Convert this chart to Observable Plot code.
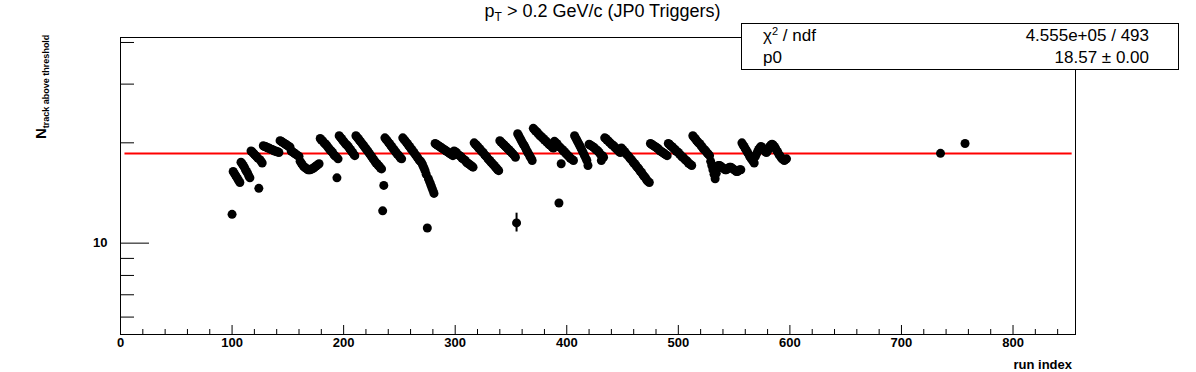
<!DOCTYPE html>
<html>
<head>
<meta charset="utf-8">
<script src="https://cdn.jsdelivr.net/npm/d3@7"></script>
<script src="https://cdn.jsdelivr.net/npm/@observablehq/plot@0.6"></script>
<style>
  body { margin: 0; background: #fff; }
  #wrap { position: relative; width: 1196px; height: 372px; overflow: hidden; font-family: "Liberation Sans", Arial, Helvetica, sans-serif; color: #000; }
  #chart { position: absolute; left: 0; top: 0; }
  .title { position: absolute; left: 0; width: 1205px; top: 1px; text-align: center; font-size: 18px; white-space: nowrap; }
  .title sub { font-size: 12px; vertical-align: -4px; }
  .stats { position: absolute; left: 741px; top: 23px; width: 436px; height: 45px; border: 1px solid #000; background: #fff; font-size: 17px; }
  .stats .row { position: absolute; left: 21px; right: 29px; height: 20px; line-height: 20px; }
  .stats .row .l { position: absolute; left: 0; }
  .stats .row .r { position: absolute; right: 0; }
  .stats sup { font-size: 11px; vertical-align: 6px; line-height: 0; }
  .ylab { position: absolute; left: 32px; top: 139px; transform-origin: 0 0; transform: rotate(-90deg); white-space: nowrap; font-weight: bold; line-height: 18px; }
  .ylab .n { font-size: 15px; }
  .ylab sub { font-size: 9px; vertical-align: -3px; }
  .xlab { position: absolute; right: 124px; top: 357px; font-size: 13px; font-weight: bold; }
</style>
</head>
<body>
<div id="wrap">
  <div id="chart"></div>
  <div class="title">p<sub>T</sub> &gt; 0.2 GeV/c (JP0 Triggers)</div>
  <div class="stats" id="stats"></div>
  <div class="ylab"><span class="n">N</span><sub>track above threshold</sub></div>
  <div class="xlab">run index</div>
</div>
<script>
// ---- data ----
const firstRun = 100;
// N_track above threshold for runs 100 .. 597 (one value per run index)
const nTrack = [
  12.2,
  16.4,16.2,16.0,15.8,15.6,15.4,15.2,
  17.5,17.3,17.1,16.9,16.6,16.4,16.2,15.9,15.7,
  18.9,18.8,18.6,18.5,18.3,18.2,18.0,14.6,17.8,17.6,17.4,
  19.6,19.5,19.5,19.4,19.3,19.3,19.2,19.1,19.1,19.0,18.9,18.9,18.8,18.8,18.7,
  20.3,20.2,20.1,20.0,19.9,19.8,19.7,19.6,19.5,19.4,
  18.9,18.8,18.7,18.6,18.5,18.4,18.3,18.2,
  17.6,17.4,17.2,17.0,16.9,16.8,16.7,16.6,16.6,16.6,16.7,16.7,16.8,16.9,17.0,17.1,17.2,17.3,
  20.6,20.4,20.3,20.1,19.9,19.8,19.6,19.4,19.2,19.0,18.9,18.7,18.5,18.3,18.2,15.7,17.9,
  21.0,20.8,20.6,20.4,20.2,20.0,19.8,19.7,19.5,19.3,19.1,18.9,18.7,18.5,18.3,
  21.0,20.8,20.6,20.4,20.2,20.0,19.8,19.6,19.4,19.2,19.0,18.8,18.6,18.4,18.2,18.0,17.8,17.6,17.4,17.3,17.1,17.0,16.8,16.7,
  12.5,14.9,
  20.7,20.5,20.3,20.1,19.9,19.7,19.5,19.3,19.1,18.9,18.7,18.5,18.4,18.2,18.0,17.9,
  20.7,20.5,20.3,20.1,19.9,19.7,19.5,19.3,19.1,18.9,18.7,18.5,18.3,18.1,17.9,17.7,17.6,17.4,17.1,16.8,16.5,
  16.1,11.1,15.6,15.3,15.0,14.7,14.4,14.1,
  19.9,19.8,19.7,19.6,19.5,19.4,19.3,19.2,19.1,19.0,18.9,18.8,18.7,18.6,18.5,18.4,18.3,
  18.9,18.8,18.7,18.5,18.4,18.3,18.2,18.0,17.9,17.8,17.7,17.5,17.4,17.3,17.2,17.1,17.0,16.9,
  20.0,19.8,19.7,19.5,19.3,19.2,19.0,18.8,18.7,18.5,18.3,18.2,18.0,17.8,17.7,17.5,17.4,17.2,17.1,16.9,16.8,16.6,16.5,
  20.3,20.1,20.0,19.8,19.7,19.5,19.4,19.2,19.1,18.9,18.8,18.6,18.5,18.3,18.1,
  11.5,
  21.3,21.0,20.7,20.4,20.1,19.8,19.6,19.3,19.0,18.7,18.5,18.2,18.0,17.7,
  22.1,21.9,21.7,21.6,21.4,21.2,21.0,20.9,20.7,20.6,20.4,20.3,20.1,20.0,19.8,19.7,19.6,19.4,19.3,
  20.2,20.0,19.9,19.7,13.2,19.4,17.3,19.1,18.9,18.8,18.6,18.5,18.3,18.2,18.0,17.9,17.8,17.7,
  21.0,20.7,20.4,20.1,19.8,19.5,19.2,18.9,18.6,18.3,18.0,17.7,
  17.1,
  19.8,19.7,19.6,19.5,19.4,19.3,19.1,19.0,18.9,18.7,18.5,17.7,18.3,18.1,
  20.7,20.6,20.4,20.3,20.1,20.0,19.8,19.7,19.6,19.4,19.3,19.1,19.0,18.8,18.7,
  19.3,19.1,18.9,18.8,18.6,18.4,18.3,18.1,17.9,17.8,17.6,17.4,17.3,17.1,16.9,16.8,16.6,16.4,16.3,16.1,15.9,15.8,15.6,15.4,15.3,15.2,
  19.9,19.8,19.7,19.6,19.5,19.4,19.3,19.2,19.0,18.9,18.8,18.7,18.6,18.5,18.4,18.3,
  19.9,19.8,19.6,19.5,19.4,19.2,19.1,18.9,18.8,18.7,18.5,18.4,18.2,18.1,18.0,17.8,17.7,17.6,17.4,17.3,17.2,17.1,
  21.0,20.8,20.6,20.4,20.2,20.0,19.9,19.7,19.5,19.3,19.1,19.0,18.8,18.6,18.5,18.3,
  17.6,17.1,16.6,16.1,15.6,16.2,
  17.0,17.1,17.1,17.0,16.9,16.8,16.7,16.6,16.6,16.7,16.8,16.9,16.9,16.8,16.7,16.6,16.5,16.4,16.4,16.5,16.6,16.6,
  20.0,19.7,19.5,19.2,19.0,18.7,18.5,18.2,18.0,17.8,17.6,17.4,
  18.2,18.5,18.8,19.1,19.3,19.5,19.4,19.2,19.0,18.8,18.7,18.9,19.2,19.5,19.7,19.8,19.7,19.5,19.3,19.0,18.8,18.5,18.3,18.1,17.9,17.8,17.7,17.8,17.9
];
// isolated late runs
const extraRuns = [735, 757];
const extraValues = [18.6, 19.9];
// visible error bar
const errRuns = [355];
const errLow = [10.8];
const errHigh = [12.3];
// constant fit
const fitP0 = 18.57;
const fitRange = [4, 853];
const statsLabels = ["\u03C7<sup>2</sup> / ndf", "p0"];
const statsValues = ["4.555e+05 / 493", "18.57 \u00B1 0.00"];
// axes
const xDomain = [0, 856];
const yDomain = [5.32, 41.4];
const xMajor = [0, 100, 200, 300, 400, 500, 600, 700, 800];
const xMinor = [20,40,60,80,120,140,160,180,220,240,260,280,320,340,360,380,420,440,460,480,520,540,560,580,620,640,660,680,720,740,760,780,820,840];
const yMajor = [10];
const yMinor = [6, 7, 8, 9, 20, 30, 40];

// ---- build ----
const points = nTrack.map((v, i) => ({run: firstRun + i, n: v}))
  .concat(extraRuns.map((r, i) => ({run: r, n: extraValues[i]})));
const errs = errRuns.map((r, i) => ({run: r, lo: errLow[i], hi: errHigh[i]}));

const W = 1196, H = 372, mL = 120, mR = 121, mT = 37, mB = 38;
const frameW = W - mL - mR, frameH = H - mT - mB;
const font = "Liberation Sans, Arial, sans-serif";

const chart = Plot.plot({
  width: W, height: H,
  marginLeft: mL, marginRight: mR, marginTop: mT, marginBottom: mB,
  style: {fontFamily: font, background: "white", color: "black"},
  x: {domain: xDomain},
  y: {type: "log", domain: yDomain},
  marks: [
    Plot.axisX(xMajor, {tickSize: 0, tickPadding: 3, fontSize: 13, fontWeight: "bold", label: null}),
    Plot.axisY(yMajor, {tickSize: 0, tickPadding: 13, fontSize: 13, fontWeight: "bold", label: null, tickFormat: d => String(d)}),
    Plot.tickX(xMajor, {x: d => d, insetTop: frameH - 9, stroke: "black"}),
    Plot.tickX(xMinor, {x: d => d, insetTop: frameH - 5, stroke: "black"}),
    Plot.tickY(yMajor, {y: d => d, insetRight: frameW - 29, stroke: "black"}),
    Plot.tickY(yMinor, {y: d => d, insetRight: frameW - 14, stroke: "black"}),
    Plot.ruleY([fitP0], {x1: fitRange[0], x2: fitRange[1], stroke: "#ff0000", strokeWidth: 2}),
    Plot.ruleX(errs, {x: "run", y1: "lo", y2: "hi", stroke: "black", strokeWidth: 2}),
    Plot.dot(points, {x: "run", y: "n", r: 4.5, fill: "black", stroke: null}),
    Plot.frame({stroke: "black", strokeWidth: 1})
  ]
});
document.getElementById("chart").appendChild(chart);

const stats = document.getElementById("stats");
statsLabels.forEach((lab, i) => {
  const row = document.createElement("div");
  row.className = "row";
  row.style.top = (2 + i * 22) + "px";
  row.innerHTML = `<span class="l">${lab}</span><span class="r">${statsValues[i]}</span>`;
  stats.appendChild(row);
});
</script>
</body>
</html>
